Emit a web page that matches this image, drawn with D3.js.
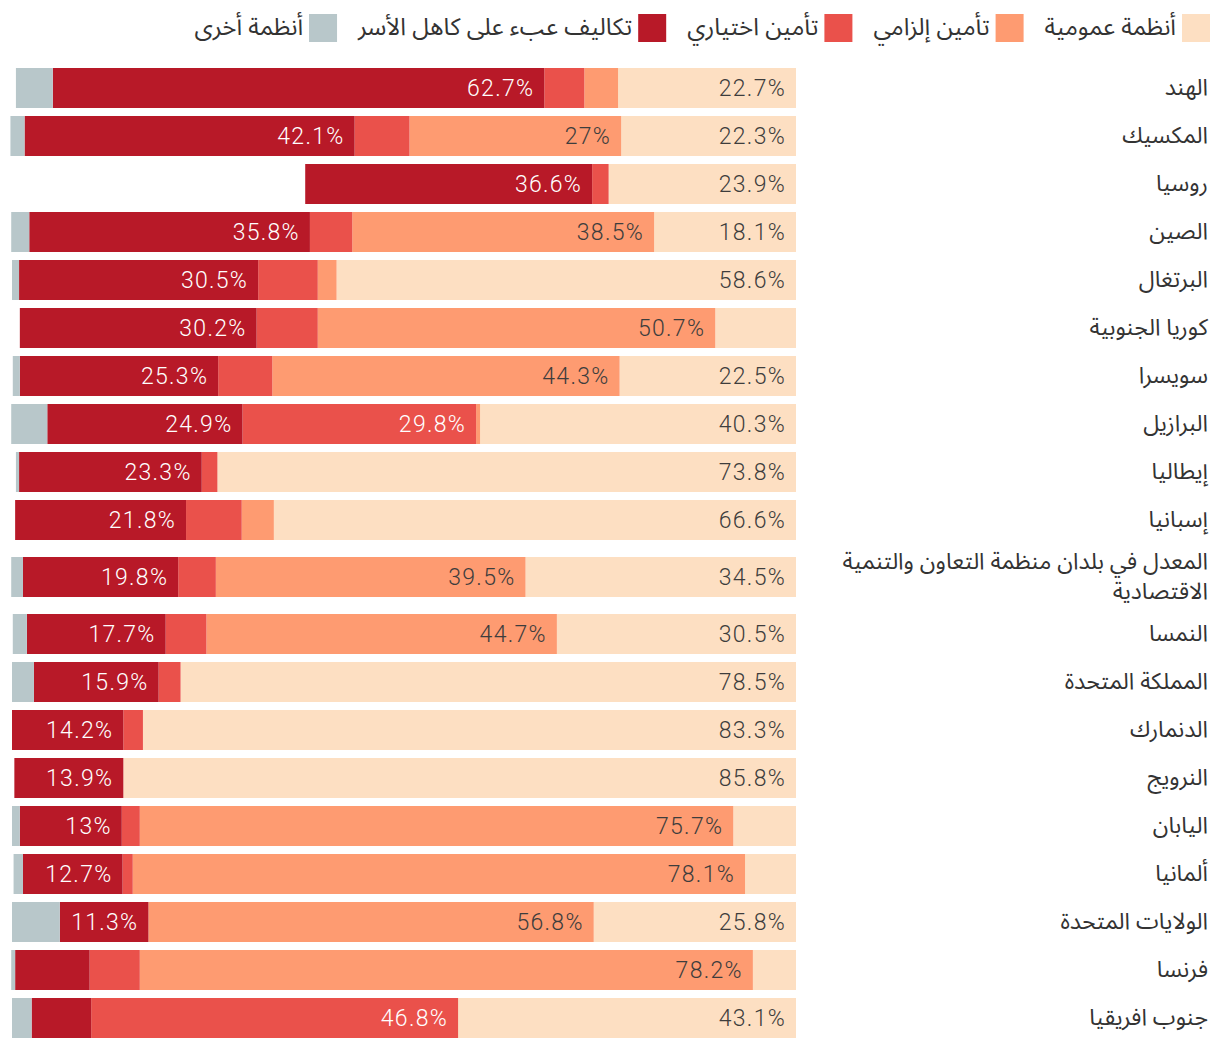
<!DOCTYPE html>
<html lang="ar">
<head>
<meta charset="utf-8">
<script src="https://cdn.jsdelivr.net/npm/d3@7"></script>
<style>
  html, body { margin: 0; padding: 0; background: #ffffff; }
  svg { display: block; }
  .ar { font-family: 'Noto Sans Arabic', 'DejaVu Sans', sans-serif; fill: #333333; }
  .num { font-family: Roboto, 'Noto Sans', sans-serif; font-weight: 300; letter-spacing: 1.3px; }
</style>
</head>
<body>
<svg id="chart" width="1220" height="1050"></svg>
<script>
// ---- Data ----
const categories = [
  "الهند", "المكسيك", "روسيا", "الصين", "البرتغال", "كوريا الجنوبية", "سويسرا",
  "البرازيل", "إيطاليا", "إسبانيا", "المعدل في بلدان منظمة التعاون والتنمية الاقتصادية",
  "النمسا", "المملكة المتحدة", "الدنمارك", "النرويج", "اليابان", "ألمانيا",
  "الولايات المتحدة", "فرنسا", "جنوب افريقيا"
];
const seriesKeys = ["public", "compulsory", "voluntary", "household", "other"];
const seriesNames = ["أنظمة عمومية", "تأمين إلزامي", "تأمين اختياري", "تكاليف عبء على كاهل الأسر", "أنظمة أخرى"];
const publicSystems = [22.7, 22.3, 23.9, 18.1, 58.6, 10.3, 22.5, 40.3, 73.8, 66.6, 34.5, 30.5, 78.5, 83.3, 85.8, 8.0, 6.5, 25.8, 5.5, 43.1];
const compulsoryIns = [4.3, 27, 0, 38.5, 2.4, 50.7, 44.3, 0.5, 0, 4.1, 39.5, 44.7, 0, 0, 0, 75.7, 78.1, 56.8, 78.2, 0];
const voluntaryIns  = [5.1, 7.0, 2.1, 5.4, 7.6, 7.8, 6.9, 29.8, 2.0, 7.1, 4.8, 5.2, 2.8, 2.5, 0, 2.3, 1.3, 0, 6.4, 46.8];
const householdCost = [62.7, 42.1, 36.6, 35.8, 30.5, 30.2, 25.3, 24.9, 23.3, 21.8, 19.8, 17.7, 15.9, 14.2, 13.9, 13, 12.7, 11.3, 9.5, 7.6];
const otherSystems  = [4.7, 1.8, 0, 2.3, 0.9, 0, 0.9, 4.6, 0.4, 0, 1.5, 1.8, 2.8, 0, 0, 1.0, 1.2, 6.1, 0.5, 2.5];
const xDomain = [0, 100];

// ---- Styles ----
const colors = ["#fddfc2", "#fe9b71", "#ea514b", "#b81928", "#b8c7ca"];
const labelColors = ["#3d3d3d", "#3d3d3d", "#ffffff", "#ffffff", "#ffffff"];
const labelMin = 11;

const svg = d3.select("#chart");

const rows = categories.map((c, i) => ({
  name: c,
  public: publicSystems[i],
  compulsory: compulsoryIns[i],
  voluntary: voluntaryIns[i],
  household: householdCost[i],
  other: otherSystems[i]
}));

const x = d3.scaleLinear().domain(xDomain).range([796, 12]);

// ---- Wrap category labels (measure) ----
const labelFont = 23;
const maxLabelW = 395;
const measure = svg.append("text").attr("class", "ar").style("font-size", labelFont + "px");
function wrap(str) {
  const words = str.split(" ");
  const lines = [];
  let cur = "";
  words.forEach(w => {
    const test = cur ? cur + " " + w : w;
    measure.text(test);
    if (measure.node().getComputedTextLength() > maxLabelW && cur) {
      lines.push(cur); cur = w;
    } else cur = test;
  });
  if (cur) lines.push(cur);
  return lines;
}
rows.forEach(r => { r.lines = wrap(r.name); });
measure.remove();

// ---- Row layout via linear scale of cumulative units ----
const baseUnit = 48, extraPerLine = 18;
let acc = 0;
rows.forEach(r => {
  const h = baseUnit + (r.lines.length - 1) * extraPerLine;
  r.u0 = acc; r.u1 = acc + h; acc += h;
});
const y = d3.scaleLinear().domain([0, acc]).range([64, 64 + acc]);
const barH = 40;

// ---- Stack ----
const stack = d3.stack().keys(seriesKeys);
const stacked = stack(rows);

const gBars = svg.append("g");
stacked.forEach((layer, li) => {
  const g = gBars.append("g").attr("fill", colors[li]);
  g.selectAll("rect").data(layer).join("rect")
    .attr("x", d => x(d[1]))
    .attr("width", d => Math.max(0, x(d[0]) - x(d[1])))
    .attr("y", d => (y(d.data.u0) + y(d.data.u1)) / 2 - barH / 2)
    .attr("height", barH);
});

// ---- Value labels ----
const gLab = svg.append("g");
stacked.forEach((layer, li) => {
  gLab.append("g").selectAll("text")
    .data(layer.filter(d => (d[1] - d[0]) >= labelMin))
    .join("text")
    .attr("class", "num")
    .attr("x", d => x(d[0]) - 10)
    .attr("y", d => (y(d.data.u0) + y(d.data.u1)) / 2)
    .attr("dy", "0.36em")
    .attr("text-anchor", "end")
    .style("font-size", "23px")
    .attr("fill", labelColors[li])
    .text(d => `${+(d[1] - d[0]).toFixed(1)}%`);
});

// ---- Category labels ----
const gCat = svg.append("g");
rows.forEach(r => {
  const cy = (y(r.u0) + y(r.u1)) / 2;
  const lh = 30;
  const t = gCat.append("text")
    .attr("class", "ar")
    .attr("x", 1208)
    .attr("text-anchor", "end")
    .style("font-size", labelFont + "px");
  r.lines.forEach((ln, k) => {
    t.append("tspan")
      .attr("x", 1208)
      .attr("y", cy + (k - (r.lines.length - 1) / 2) * lh)
      .attr("dy", "0.3em")
      .text(ln);
  });
});

// ---- Legend (right to left) ----
const gLeg = svg.append("g");
let lx = 1210;
const sw = 28, legY = 14;
seriesNames.forEach((name, i) => {
  gLeg.append("rect").attr("x", lx - sw).attr("y", legY).attr("width", sw).attr("height", sw).attr("fill", colors[i]);
  const t = gLeg.append("text")
    .attr("class", "ar")
    .attr("x", lx - sw - 6)
    .attr("y", legY + sw / 2)
    .attr("dy", "0.3em")
    .attr("text-anchor", "end")
    .style("font-size", "24px")
    .text(name);
  const w = t.node().getComputedTextLength();
  lx = lx - sw - 6 - w - 21;
});
</script>
</body>
</html>
